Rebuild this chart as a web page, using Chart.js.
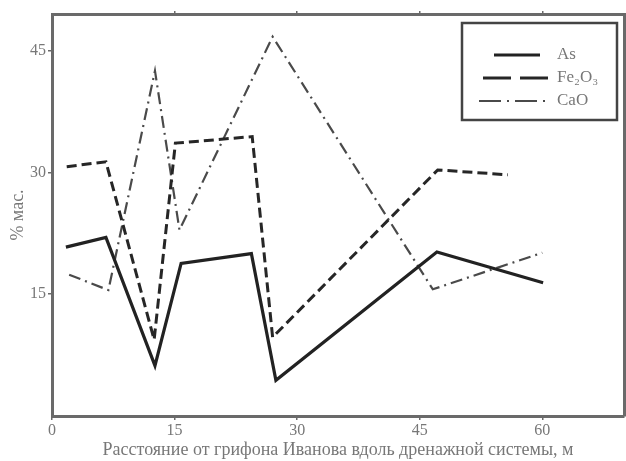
<!DOCTYPE html>
<html>
<head>
<meta charset="utf-8">
<script src="https://cdn.jsdelivr.net/npm/chart.js@4.4.1/dist/chart.umd.min.js"></script>
<style>
  html, body { margin: 0; padding: 0; background: #fff; }
  #wrap { width: 626px; height: 461px; }
</style>
</head>
<body>
<div id="wrap"><canvas id="chart"></canvas></div>
<script>
// values
const asX = [1.7, 6.6, 12.6, 15.8, 24.4, 27.4, 47.1, 60.1];
const asY = [20.8, 22.0, 6.2, 18.8, 20.0, 4.4, 20.2, 16.4];

const feX = [1.8, 6.6, 12.5, 15.1, 24.5, 27.0, 47.2, 55.8];
const feY = [30.7, 31.3, 9.4, 33.6, 34.4, 9.7, 30.3, 29.7];

const caoX = [2.1, 6.9, 12.6, 15.6, 27.0, 46.6, 60.0];
const caoY = [17.4, 15.5, 42.5, 22.9, 46.7, 15.6, 20.1];

const seriesLabels = ['As', 'Fe\u2082O\u2083', 'CaO'];
const xTicks = [0, 15, 30, 45, 60];
const yTicks = [15, 30, 45];

const font = "'Liberation Serif', 'Times New Roman', serif";
const axisColor = '#6a6a6a';
const textColor = '#777';

function toPoints(xs, ys) {
    return xs.map((x, i) => ({ x: x, y: ys[i] }));
}

// legend drawn inside a framed box in the upper right
const boxLegend = {
    id: 'boxLegend',
    afterDraw(chart) {
        const ctx = chart.ctx;
        const items = [
            { y: 55, x1: 494, x2: 540, dash: [], ds: chart.data.datasets[0] },
            { y: 78, x1: 483, x2: 548, dash: [28, 9], ds: chart.data.datasets[1] },
            { y: 101, x1: 479, x2: 550, dash: [22, 6, 2, 6], ds: chart.data.datasets[2] }
        ];
        ctx.save();
        ctx.strokeStyle = '#444';
        ctx.lineWidth = 2.5;
        ctx.strokeRect(462, 23, 155, 97);
        items.forEach(it => {
            ctx.beginPath();
            ctx.strokeStyle = it.ds.borderColor;
            ctx.lineWidth = it.ds.borderWidth;
            ctx.setLineDash(it.dash);
            ctx.moveTo(it.x1, it.y);
            ctx.lineTo(it.x2, it.y);
            ctx.stroke();
            ctx.setLineDash([]);
            ctx.fillStyle = textColor;
            ctx.font = '17px ' + font;
            ctx.textBaseline = 'middle';
            ctx.fillText(it.ds.label, 557, it.y);
        });
        ctx.restore();
    }
};

new Chart(document.getElementById('chart'), {
    type: 'line',
    data: {
        datasets: [
            {
                label: seriesLabels[0],
                data: toPoints(asX, asY),
                borderColor: '#222',
                borderWidth: 3.2,
                pointRadius: 0,
                tension: 0
            },
            {
                label: seriesLabels[1],
                data: toPoints(feX, feY),
                borderColor: '#262626',
                borderWidth: 3,
                borderDash: [10, 5],
                pointRadius: 0,
                tension: 0
            },
            {
                label: seriesLabels[2],
                data: toPoints(caoX, caoY),
                borderColor: '#4a4a4a',
                borderWidth: 2.2,
                borderDash: [12, 5, 2, 5],
                pointRadius: 0,
                tension: 0
            }
        ]
    },
    options: {
        responsive: true,
        maintainAspectRatio: false,
        animation: false,
        layout: { padding: { top: 14, right: 2, left: 0, bottom: 0 } },
        plugins: {
            legend: { display: false },
            tooltip: { enabled: false }
        },
        scales: {
            x: {
                type: 'linear',
                min: 0,
                max: 70,
                afterBuildTicks: s => { s.ticks = xTicks.map(v => ({ value: v })); },
                afterFit: s => { s.height = 45; },
                border: { display: true, color: axisColor, width: 3 },
                grid: { drawOnChartArea: false, drawTicks: true, tickLength: 4, color: axisColor, lineWidth: 1.5 },
                ticks: { color: textColor, font: { family: font, size: 16 }, padding: 1 },
                title: {
                    display: true,
                    text: 'Расстояние от грифона Иванова вдоль дренажной системы, м',
                    color: textColor,
                    font: { family: font, size: 18 },
                    padding: { top: 0, bottom: 0 }
                }
            },
            x2: {
                type: 'linear',
                position: 'top',
                min: 0,
                max: 70,
                afterBuildTicks: s => { s.ticks = xTicks.slice(1).map(v => ({ value: v })); },
                afterFit: s => { s.height = 0; },
                border: { display: true, color: axisColor, width: 3 },
                grid: { drawOnChartArea: false, drawTicks: true, tickLength: 3, color: axisColor, lineWidth: 1.5 },
                ticks: { display: false }
            },
            y: {
                min: 0,
                max: 49.5,
                afterBuildTicks: s => { s.ticks = yTicks.map(v => ({ value: v })); },
                afterFit: s => { s.width = 52; },
                border: { display: true, color: axisColor, width: 3 },
                grid: { drawOnChartArea: false, drawTicks: true, tickLength: 4, color: axisColor, lineWidth: 1.5 },
                ticks: { color: textColor, font: { family: font, size: 16 }, padding: 2 },
                title: {
                    display: true,
                    text: '% мас.',
                    color: textColor,
                    font: { family: font, size: 18 },
                    padding: { top: 7, bottom: 0 }
                }
            },
            y2: {
                position: 'right',
                min: 0,
                max: 49.5,
                afterBuildTicks: s => { s.ticks = [15, 45].map(v => ({ value: v })); },
                afterFit: s => { s.width = 0; },
                border: { display: true, color: axisColor, width: 3 },
                grid: { drawOnChartArea: false, drawTicks: true, tickLength: 3, color: axisColor, lineWidth: 1.5 },
                ticks: { display: false }
            }
        }
    },
    plugins: [boxLegend]
});
</script>
</body>
</html>
